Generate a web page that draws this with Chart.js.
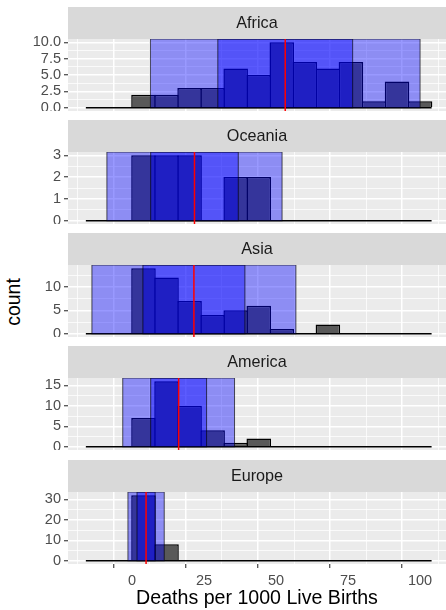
<!DOCTYPE html>
<html>
<head>
<meta charset="utf-8">
<script src="https://cdn.jsdelivr.net/npm/chart.js@4.4.0/dist/chart.umd.min.js"></script>
<style>
  html, body { margin: 0; padding: 0; background: #fff; }
  #wrap { position: relative; width: 446px; height: 610px; overflow: hidden; font-family: "Liberation Sans", Arial, sans-serif; }
  #wrap canvas { position: absolute; left: 0; }
  #ylab { position: absolute; left: 14px; top: 301.5px; font-size: 19.5px; line-height: 1; color: #000;
          transform: translate(-50%, -50%) rotate(-90deg); white-space: nowrap; }
</style>
</head>
<body>
<div id="wrap">
  <div id="ylab">count</div>
</div>
<script>
// histogram data, one row of counts per region
const regions = ['Africa', 'Oceania', 'Asia', 'America', 'Europe'];
const binCenters = [-12, -4, 4, 12, 20, 28, 36, 44, 52, 60, 68, 76, 84, 92, 100];
const binWidth = 8;
const africaCounts  = [0, 0, 2, 2, 3, 3, 6, 5, 10, 7, 6, 7, 1, 4, 1];
const oceaniaCounts = [0, 0, 3, 3, 3, 0, 2, 2, 0, 0, 0, 0, 0, 0, 0];
const asiaCounts    = [0, 0, 14, 12, 7, 4, 5, 6, 1, 0, 2, 0, 0, 0, 0];
const americaCounts = [0, 0, 7, 16, 10, 4, 1, 2, 0, 0, 0, 0, 0, 0, 0];
const europeCounts  = [0, 0, 32, 8, 0, 0, 0, 0, 0, 0, 0, 0, 0, 0, 0];

// mean (red line) and sd (blue bands = mean +/- 1 sd and +/- 2 sd)
const regionMeans = [53.2, 21.7, 21.5, 16.2, 4.9];
const regionSds   = [23.4, 15.2, 17.7, 9.7, 3.15];

// tick labels
const xTickLabels = ['0', '25', '50', '75', '100'];
const africaTicks  = ['0.0', '2.5', '5.0', '7.5', '10.0'];
const oceaniaTicks = ['0', '1', '2', '3'];
const asiaTicks    = ['0', '5', '10'];
const americaTicks = ['0', '5', '10', '15'];
const europeTicks  = ['0', '10', '20', '30'];

const allCounts = [africaCounts, oceaniaCounts, asiaCounts, americaCounts, europeCounts];
const allTicks = [africaTicks, oceaniaTicks, asiaTicks, americaTicks, europeTicks];

// layout
const FONT = '"Liberation Sans", Arial, sans-serif';
const PLOT_LEFT = 68;
const STRIP_H = 32;
const PLOT_H = 72;
const stripTops = [7, 120, 233, 346, 460];
const X_MIN = -22.2, X_MAX = 109;

Chart.defaults.font.family = FONT;

const xMajor = xTickLabels.map(Number);
const xGrid = xMajor.concat(xMajor.map(v => v - 12.5)).filter(v => v >= X_MIN && v <= X_MAX).sort((a, b) => a - b);

// widen bars by one border width so neighbouring outlines overlap like ggplot strokes
const BAR_BORDER = 1.5;
const pxPerUnit = (446 - PLOT_LEFT) / (X_MAX - X_MIN);
const barPct = 1 + BAR_BORDER / (binWidth * pxPerUnit);

const isMajor = (c, majors) => !!(c.tick && majors.includes(c.tick.value));

const panelPlugin = {
  id: 'panel',
  beforeDraw(chart, args, opts) {
    const { ctx, chartArea: a } = chart;
    ctx.save();
    ctx.fillStyle = '#ebebeb';
    ctx.fillRect(a.left, a.top, a.right - a.left, a.bottom - a.top);
    ctx.fillStyle = '#d9d9d9';
    ctx.fillRect(a.left, a.top - STRIP_H, a.right - a.left, STRIP_H);
    ctx.fillStyle = '#1a1a1a';
    ctx.font = '16.2px ' + FONT;
    ctx.textAlign = 'center';
    ctx.textBaseline = 'middle';
    ctx.fillText(opts.name, (a.left + a.right) / 2, a.top - STRIP_H / 2 + 1);
    ctx.restore();
  },
  afterDatasetsDraw(chart, args, opts) {
    const { ctx, chartArea: a } = chart;
    const x = chart.scales.x, y = chart.scales.y;
    ctx.save();
    ctx.beginPath();
    ctx.rect(a.left, a.top, a.right - a.left, a.bottom - a.top);
    ctx.clip();
    const bottom = y.getPixelForValue(0);
    [2, 1].forEach(k => {
      const l = x.getPixelForValue(opts.mean - k * opts.sd);
      const r = x.getPixelForValue(opts.mean + k * opts.sd);
      ctx.fillStyle = 'rgba(0,0,255,0.4)';
      ctx.fillRect(l, a.top, r - l, bottom - a.top);
      ctx.strokeStyle = 'rgba(0,0,0,0.65)';
      ctx.lineWidth = 1;
      ctx.strokeRect(l, a.top, r - l, bottom - a.top);
    });
    const m = x.getPixelForValue(opts.mean);
    ctx.strokeStyle = '#ff0000';
    ctx.lineWidth = 1.5;
    ctx.beginPath();
    ctx.moveTo(m, a.top);
    ctx.lineTo(m, a.bottom);
    ctx.stroke();
    ctx.restore();
  }
};

const wrap = document.getElementById('wrap');

regions.forEach((name, i) => {
  const last = i === regions.length - 1;
  const counts = allCounts[i];
  const yLabels = allTicks[i];
  const yMajor = yLabels.map(Number);
  const maxCount = Math.max(...counts);
  const yMin = -0.05 * maxCount, yMax = 1.05 * maxCount;
  const step = yMajor[1] - yMajor[0];
  const yGrid = yMajor.concat(yMajor.map(v => v + step / 2)).filter(v => v <= yMax).sort((a, b) => a - b);

  const h = last ? 610 - stripTops[i] : STRIP_H + PLOT_H;
  const axisH = h - STRIP_H - PLOT_H;
  const canvas = document.createElement('canvas');
  canvas.width = 446;
  canvas.height = h;
  canvas.style.top = stripTops[i] + 'px';
  canvas.style.width = '446px';
  canvas.style.height = h + 'px';
  wrap.appendChild(canvas);

  new Chart(canvas, {
    type: 'bar',
    data: {
      datasets: [
        {
          type: 'line',
          data: [
            { x: binCenters[0] - binWidth / 2, y: 0 },
            { x: binCenters[binCenters.length - 1] + binWidth / 2, y: 0 }
          ],
          borderColor: '#000',
          borderWidth: BAR_BORDER,
          pointRadius: 0,
          order: 0
        },
        {
          type: 'bar',
          data: binCenters.map((c, k) => ({ x: c, y: counts[k] })),
          backgroundColor: '#595959',
          borderColor: '#000',
          borderWidth: BAR_BORDER,
          borderSkipped: 'start',
          barPercentage: barPct,
          categoryPercentage: 1,
          order: 1
        }
      ]
    },
    options: {
      responsive: false,
      animation: false,
      devicePixelRatio: 1,
      layout: { padding: { top: STRIP_H, left: 0, right: 0, bottom: 0 } },
      plugins: {
        legend: { display: false },
        tooltip: { enabled: false },
        panel: { name: name, mean: regionMeans[i], sd: regionSds[i] }
      },
      scales: {
        x: {
          type: 'linear',
          min: X_MIN,
          max: X_MAX,
          offset: false,
          afterBuildTicks: s => { s.ticks = xGrid.map(v => ({ value: v })); },
          afterFit: s => { s.height = axisH; s.paddingLeft = 0; s.paddingRight = 0; },
          grid: {
            color: '#ffffff',
            lineWidth: c => isMajor(c, xMajor) ? 1.5 : 0.75,
            drawTicks: last,
            tickLength: 4,
            tickWidth: 1.1,
            tickColor: c => isMajor(c, xMajor) ? '#333333' : 'rgba(0,0,0,0)'
          },
          border: { display: false },
          ticks: {
            display: last,
            padding: 4,
            autoSkip: false,
            maxRotation: 0,
            color: '#4d4d4d',
            font: { size: 14.5 },
            callback: v => xMajor.includes(v) ? xTickLabels[xMajor.indexOf(v)] : ''
          },
          title: {
            display: last,
            text: 'Deaths per 1000 Live Births',
            color: '#000',
            font: { size: 19.6 },
            padding: { top: 0, bottom: 0 }
          }
        },
        y: {
          min: yMin,
          max: yMax,
          afterBuildTicks: s => { s.ticks = yGrid.map(v => ({ value: v })); },
          afterFit: s => { s.width = PLOT_LEFT; s.paddingTop = 0; s.paddingBottom = 0; },
          grid: {
            color: '#ffffff',
            lineWidth: c => isMajor(c, yMajor) ? 1.5 : 0.75,
            tickLength: 4,
            tickWidth: 1.1,
            tickColor: c => isMajor(c, yMajor) ? '#333333' : 'rgba(0,0,0,0)'
          },
          border: { display: false },
          ticks: {
            padding: 3,
            autoSkip: false,
            color: '#4d4d4d',
            font: { size: 14.5 },
            callback: v => yMajor.includes(v) ? yLabels[yMajor.indexOf(v)] : ''
          }
        }
      }
    },
    plugins: [panelPlugin]
  });
});
</script>
</body>
</html>
